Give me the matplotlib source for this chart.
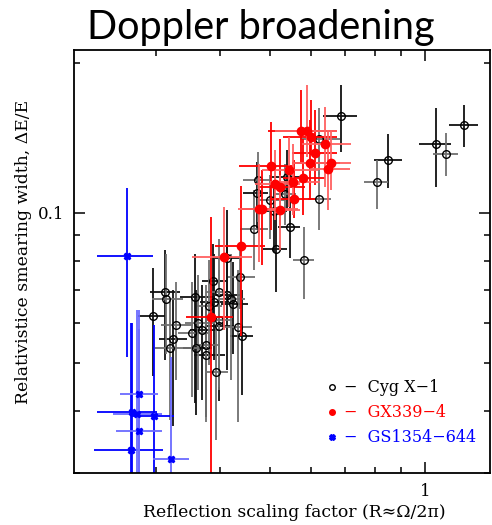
import numpy as np
import matplotlib.pyplot as plt
from matplotlib.lines import Line2D
from matplotlib.ticker import FixedLocator, FixedFormatter, LogLocator, NullFormatter

# Cyg X-1: value, lower bound, upper bound (x = reflection R, y = smearing width)
cyg_x = [0.687, 0.622, 0.848, 0.807, 1.050, 1.099, 1.190, 0.622, 0.547, 0.582,
         0.514, 0.474, 0.472, 0.500, 0.509, 0.535, 0.539, 0.466, 0.413, 0.437,
         0.387, 0.398, 0.313, 0.314, 0.296, 0.328, 0.324, 0.320, 0.358, 0.352,
         0.359, 0.363, 0.369, 0.376, 0.376, 0.393, 0.389, 0.380, 0.413, 0.420,
         0.424, 0.398, 0.398, 0.433, 0.441]
cyg_xlo = [0.634, 0.572, 0.797, 0.761, 0.974, 1.036, 1.113, 0.593, 0.518, 0.554,
           0.485, 0.443, 0.443, 0.474, 0.483, 0.511, 0.505, 0.437, 0.391, 0.414,
           0.369, 0.376, 0.292, 0.295, 0.277, 0.307, 0.304, 0.299, 0.334, 0.331,
           0.339, 0.342, 0.350, 0.357, 0.356, 0.374, 0.366, 0.361, 0.391, 0.396,
           0.402, 0.377, 0.374, 0.409, 0.418]
cyg_xhi = [0.738, 0.684, 0.902, 0.848, 1.123, 1.159, 1.267, 0.657, 0.572, 0.609,
           0.539, 0.500, 0.495, 0.535, 0.539, 0.562, 0.572, 0.495, 0.437, 0.468,
           0.412, 0.422, 0.334, 0.339, 0.314, 0.354, 0.345, 0.366, 0.391, 0.379,
           0.386, 0.391, 0.396, 0.400, 0.409, 0.414, 0.414, 0.403, 0.437, 0.447,
           0.453, 0.422, 0.426, 0.461, 0.463]
cyg_y = [0.1565, 0.1402, 0.1278, 0.1153, 0.1376, 0.1314, 0.1502, 0.1067, 0.0937, 0.0805,
         0.0847, 0.1165, 0.1097, 0.1062, 0.1009, 0.1092, 0.1181, 0.0928, 0.0809, 0.0741,
         0.0730, 0.0694, 0.0694, 0.0672, 0.0621, 0.0596, 0.0558, 0.0534, 0.0678, 0.0574,
         0.0534, 0.0599, 0.0580, 0.0541, 0.0517, 0.0479, 0.0662, 0.0650, 0.0684, 0.0672,
         0.0654, 0.0610, 0.0591, 0.0588, 0.0566]
cyg_ylo = [0.1326, 0.1192, 0.1122, 0.1019, 0.1128, 0.1182, 0.1357, 0.0924, 0.0812, 0.0672,
           0.0694, 0.0959, 0.0924, 0.0883, 0.0835, 0.0946, 0.1014, 0.0768, 0.0669, 0.0639,
           0.0610, 0.0447, 0.0507, 0.0519, 0.0469, 0.0462, 0.0372, 0.0384, 0.0415, 0.0427,
           0.0393, 0.0441, 0.0421, 0.0379, 0.0388, 0.0350, 0.0507, 0.0495, 0.0484, 0.0462,
           0.0519, 0.0441, 0.0418, 0.0379, 0.0431]
cyg_yhi = [0.1807, 0.1625, 0.1435, 0.1278, 0.1618, 0.1448, 0.1648, 0.1209, 0.1077, 0.0937,
           0.1000, 0.1326, 0.1266, 0.1192, 0.1165, 0.1249, 0.1338, 0.1112, 0.1014, 0.0855,
           0.0863, 0.0883, 0.0843, 0.0824, 0.0775, 0.0727, 0.0700, 0.0669, 0.0824, 0.0724,
           0.0700, 0.0751, 0.0716, 0.0716, 0.0669, 0.0596, 0.0824, 0.0805, 0.0851, 0.0824,
           0.0797, 0.0768, 0.0734, 0.0768, 0.0700]

# GX339-4
gx_x = [0.574, 0.590, 0.601, 0.640, 0.612, 0.657, 0.598, 0.648, 0.502, 0.544,
        0.580, 0.511, 0.523, 0.554, 0.557, 0.476, 0.482, 0.523, 0.439, 0.406, 0.384]
gx_xlo = [0.495, 0.511, 0.530, 0.577, 0.552, 0.554, 0.552, 0.598, 0.435, 0.483,
          0.530, 0.468, 0.474, 0.500, 0.500, 0.433, 0.437, 0.483, 0.391, 0.353, 0.343]
gx_xhi = [0.675, 0.675, 0.675, 0.718, 0.675, 0.718, 0.684, 0.715, 0.554, 0.620,
          0.640, 0.572, 0.585, 0.625, 0.612, 0.567, 0.547, 0.572, 0.489, 0.461, 0.424]
gx_y = [0.1461, 0.1461, 0.1421, 0.1376, 0.1320, 0.1260, 0.1260, 0.1225, 0.1242, 0.1220,
        0.1176, 0.1143, 0.1128, 0.1154, 0.1067, 0.1019, 0.1019, 0.1014, 0.0855, 0.0816, 0.0618]
gx_ylo = [0.1266, 0.1295, 0.1307, 0.1128, 0.1138, 0.1112, 0.1062, 0.1014, 0.0924, 0.1028,
          0.0991, 0.0968, 0.0946, 0.0991, 0.0977, 0.0797, 0.0786, 0.0843, 0.0564, 0.0582, 0.0250]
gx_yhi = [0.1766, 0.1807, 0.1686, 0.1632, 0.1610, 0.1468, 0.1537, 0.1468, 0.1523, 0.1415,
          0.1402, 0.1338, 0.1402, 0.1370, 0.1278, 0.1249, 0.1220, 0.1192, 0.1133, 0.1028, 0.0982]

# GS1354-644
gs_x = [0.264, 0.278, 0.270, 0.276, 0.298, 0.278, 0.269, 0.321]
gs_xlo = [0.231, 0.255, 0.231, 0.248, 0.270, 0.251, 0.227, 0.296]
gs_xhi = [0.296, 0.303, 0.301, 0.309, 0.326, 0.309, 0.310, 0.348]
gs_y = [0.0820, 0.0433, 0.0398, 0.0394, 0.0391, 0.0364, 0.0334, 0.0320]
gs_ylo = [0.0514, 0.0250, 0.0250, 0.0250, 0.0250, 0.0250, 0.0250, 0.0250]
gs_yhi = [0.1122, 0.0636, 0.0599, 0.0636, 0.0594, 0.0585, 0.0599, 0.0514]

labels = ['\u2212  Cyg X\u22121', '\u2212  GX339\u22124', '\u2212  GS1354\u2212644']


def draw_series(ax, x, xlo, xhi, y, ylo, yhi, bar_colors, marker, ms, mfc, mec):
    x, xlo, xhi = np.array(x), np.array(xlo), np.array(xhi)
    y, ylo, yhi = np.array(y), np.array(ylo), np.array(yhi)
    xerr = np.vstack([x - xlo, xhi - x])
    yerr = np.vstack([y - ylo, yhi - y])
    # alternate bar shades like the original plot
    for k, c in enumerate(bar_colors):
        ax.errorbar(x[k::2], y[k::2], xerr=xerr[:, k::2], yerr=yerr[:, k::2],
                    fmt='none', ecolor=c, elinewidth=1.3, capsize=0)
    ax.plot(x, y, ls='none', marker=marker, ms=ms, mfc=mfc, mec=mec, mew=1.0)


fig = plt.figure(figsize=(4.92, 5.25), dpi=100)
ax = fig.add_axes([0.1504, 0.099, 0.8455, 0.8057])
ax.set_xscale('log')
ax.set_yscale('log')

draw_series(ax, cyg_x, cyg_xlo, cyg_xhi, cyg_y, cyg_ylo, cyg_yhi,
            ['#111111', '#707070'], 'o', 5.5, 'none', 'k')
draw_series(ax, gx_x, gx_xlo, gx_xhi, gx_y, gx_ylo, gx_yhi,
            ['#ff0000', '#ff6060'], 'o', 6, 'r', 'r')
draw_series(ax, gs_x, gs_xlo, gs_xhi, gs_y, gs_ylo, gs_yhi,
            ['#0000ff', '#6a6aff'], 'X', 5, 'b', 'b')

ax.set_xlim(0.208, 1.337)
ax.set_ylim(0.03, 0.212)

serif = 'DejaVu Serif'
ax.xaxis.set_major_locator(FixedLocator([1]))
ax.xaxis.set_major_formatter(FixedFormatter(['1']))
ax.xaxis.set_minor_locator(LogLocator(subs=np.arange(2, 10)))
ax.xaxis.set_minor_formatter(NullFormatter())
ax.yaxis.set_major_locator(FixedLocator([0.1]))
ax.yaxis.set_major_formatter(FixedFormatter(['0.1']))
ax.yaxis.set_minor_locator(LogLocator(subs=np.arange(2, 10)))
ax.yaxis.set_minor_formatter(NullFormatter())
ax.tick_params(which='both', direction='in', top=True, right=True, width=1.1)
ax.tick_params(which='major', length=8, pad=7)
ax.tick_params(which='minor', length=4)
for t in ax.get_xticklabels() + ax.get_yticklabels():
    t.set_fontfamily(serif)
    t.set_fontsize(12)
for s in ax.spines.values():
    s.set_linewidth(1.3)

ax.set_xlabel('Reflection scaling factor (R\u2248\u03a9/2\u03c0)', family=serif, fontsize=12.4)
ax.set_ylabel('Relativistice smearing width, \u0394E/E', family=serif, fontsize=12.4)
ax.xaxis.set_label_coords(0.53, -0.074)
ax.yaxis.set_label_coords(-0.101, 0.522)

handles = [Line2D([], [], ls='none', marker='o', ms=4, mfc='none', mec='k'),
           Line2D([], [], ls='none', marker='o', ms=4, mfc='r', mec='r'),
           Line2D([], [], ls='none', marker='X', ms=4, mfc='b', mec='b')]
leg = ax.legend(handles, labels, loc='upper left', bbox_to_anchor=(0.605, 0.222),
                frameon=False, prop={'family': serif, 'size': 11.5},
                handlelength=0.8, handletextpad=0.35, labelspacing=0.5,
                borderpad=0, borderaxespad=0)
for t, c in zip(leg.get_texts(), ['k', 'r', 'b']):
    t.set_color(c)

fig.text(0.53, 0.926, 'Doppler broadening', family='Lato', fontsize=28.5,
         ha='center', va='baseline')

fig.savefig('out.png', dpi=100)
